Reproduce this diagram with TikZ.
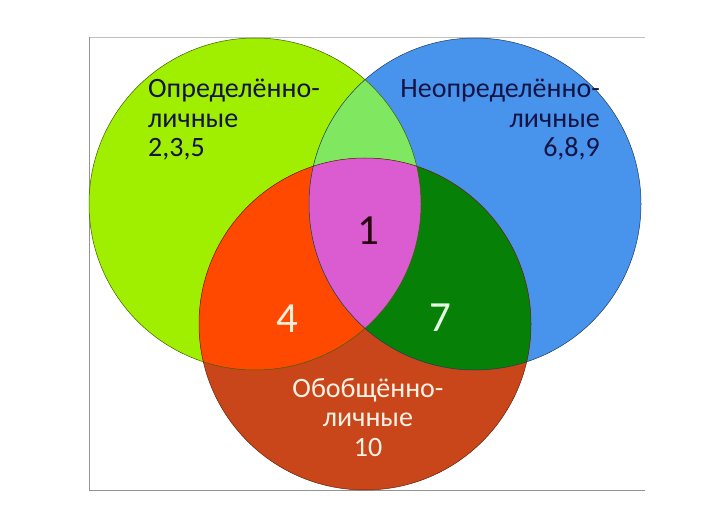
\documentclass[tikz,border=0pt]{standalone}
\usepackage{fontspec}
\setmainfont{Carlito}
\definecolor{oprgreen}{RGB}{160,238,0}
\definecolor{neoprblue}{RGB}{72,148,236}
\definecolor{obobred}{RGB}{200,70,25}
\definecolor{lightgreen}{RGB}{128,232,96}
\definecolor{orangered}{RGB}{255,72,0}
\definecolor{darkgreen}{RGB}{6,128,6}
\definecolor{pinkmid}{RGB}{218,92,208}
\definecolor{navytext}{RGB}{20,20,70}

\begin{document}
\begin{tikzpicture}[x=1pt, y=-1pt,
    lbl/.style={font=\fontsize{28}{29.5}\selectfont, inner sep=0pt},
    num/.style={font=\fontsize{43}{50}\selectfont, inner sep=0pt}]
    \useasboundingbox (0,0) rectangle (711,505);

    \coordinate (opr) at (255,204);
    \coordinate (neopr) at (475,204);
    \coordinate (obob) at (365,324);

    \draw[gray!50, line width=0.7pt] (89,37) -- (645,37);
    \draw[gray!85, line width=0.9pt] (89,37) -- (89,490) -- (645,490);

    \fill[oprgreen] (opr) circle[radius=166pt];
    \fill[neoprblue] (neopr) circle[radius=166pt];
    \fill[obobred] (obob) circle[radius=166pt];
    \begin{scope}
        \clip (opr) circle[radius=166pt];
        \fill[lightgreen] (neopr) circle[radius=166pt];
        \fill[orangered] (obob) circle[radius=166pt];
    \end{scope}
    \begin{scope}
        \clip (neopr) circle[radius=166pt];
        \fill[darkgreen] (obob) circle[radius=166pt];
        \clip (opr) circle[radius=166pt];
        \fill[pinkmid] (obob) circle[radius=166pt];
    \end{scope}
    \draw[black!60!oprgreen, line width=0.5pt] (opr) circle[radius=166pt];
    \draw[black!60!neoprblue, line width=0.5pt] (neopr) circle[radius=166pt];
    \draw[black!50!obobred, line width=0.5pt] (obob) circle[radius=166pt];

    \node[lbl, navytext, align=left, anchor=base west] (oprtext) at (148,157) {Определённо-\\личные\\2,3,5};
    \node[lbl, navytext, align=right, anchor=base east] (neoprtext) at (600,157) {Неопределённо-\\личные\\6,8,9};
    \node[lbl, white!90!orange, align=center, anchor=base] (obobtext) at (368,456) {Обобщённо-\\личные\\10};

    \node[num, black!80!purple] (all) at (368,231) {1};
    \node[num, white!85!orange] (oprobob) at (287,319) {4};
    \node[num, white!90!green] (neoprobob) at (440,318) {7};
\end{tikzpicture}
\end{document}
